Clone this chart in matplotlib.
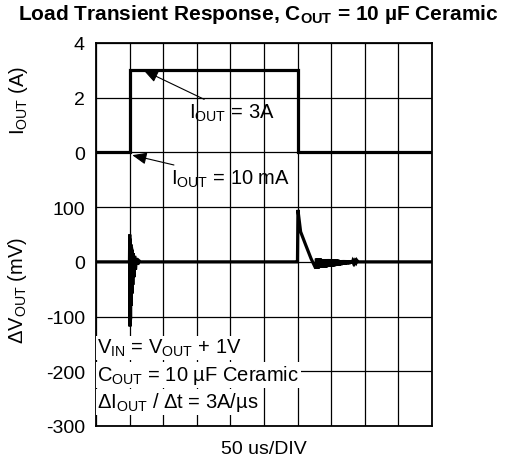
import matplotlib
matplotlib.use("Agg")
import matplotlib.pyplot as plt

plt.rcParams['font.family'] = ['Liberation Sans', 'DejaVu Sans']
plt.rcParams['mathtext.fontset'] = 'custom'
plt.rcParams['mathtext.rm'] = 'Liberation Sans'
plt.rcParams['mathtext.it'] = 'Liberation Sans:italic'
plt.rcParams['mathtext.bf'] = 'Liberation Sans:bold'

# output current (A) vs time (us)
t_iout = [0, 50, 50, 300, 300, 500]
iout = [0, 0, 3, 3, 0, 0]

# output voltage deviation (mV) vs time (us)
t_vout = [0, 49.8, 50.2, 50.6, 51.0, 51.4, 51.9, 52.4, 52.9, 53.5, 54.1, 54.8,
          55.6, 56.5, 57.5, 58.8, 60.2, 62.0, 64.0, 66.0,
          299.4, 299.8, 300.5, 304.5, 312, 320, 327,
          328, 329, 330, 331, 332, 333, 334, 335, 336, 337, 338, 339, 340,
          341, 342, 343, 344, 345, 346, 347, 348, 349, 350, 351, 352, 353,
          354, 355, 356, 357, 358, 359, 360, 361, 362, 363, 364, 365, 366,
          367, 368, 369, 370, 371, 372, 373, 374, 375, 376, 377, 378, 379,
          380, 381, 382, 383, 384, 385, 386, 387, 388, 390, 500]
vout = [0, 0, 50, -118, 42, -105, 32, -80, 26, -58, 22, -42, 16, -28, 11,
        -14, 7, -5, 2, 0,
        0, 0, 95, 55, 31, 6, -12,
        6, -12, 6, -12, 6, -11, 6, -11, 5, -11, 5, -10, 5,
        -10, 5, -10, 5, -9, 5, -9, 5, -9, 4, -8, 4, -8,
        4, -8, 4, -7, 4, -7, 4, -7, 3, -6, 3, -6, 3,
        -5, 3, -5, 3, -5, 2, -4, 2, -4, 2, -4, 2, -3,
        2, -3, 1, -2, 1, -2, 1, -1, 3, 0, 0]

v_ticks = [-300, -200, -100, 0, 100, 200, 300, 400]
v_labels = ['-300', '-200', '-100', '0', '100', '', '', '']
i_ticks = [0, 2, 4]
x_ticks = list(range(0, 501, 50))

fig = plt.figure(figsize=(5.08, 4.64), dpi=100)
rect = [96 / 508, 1 - 427 / 464, 336 / 508, 383 / 464]

ax = fig.add_axes(rect)
ax.set_xlim(0, 500)
ax.set_ylim(-300, 400)
ax.set_xticks(x_ticks)
ax.set_xticklabels([])
ax.set_yticks(v_ticks)
ax.set_yticklabels(v_labels)
ax.tick_params(length=0, labelsize=14, pad=8)
ax.grid(True, color='black', linewidth=0.9)
ax.set_axisbelow(True)
for s in ax.spines.values():
    s.set_linewidth(1.3)
ax.plot(t_vout, vout, color='black', linewidth=2.3, solid_joinstyle='miter')

axi = fig.add_axes(rect, sharex=ax)
axi.patch.set_visible(False)
for s in axi.spines.values():
    s.set_visible(False)
axi.set_ylim(-10, 4)
axi.set_yticks(i_ticks)
axi.tick_params(length=0, labelsize=14, pad=8, labelbottom=False)
axi.plot(t_iout, iout, color='black', linewidth=2.3, solid_joinstyle='miter')

arrow = dict(arrowstyle='-|>,head_length=0.6,head_width=0.25', color='black',
             linewidth=0.8, shrinkA=0, shrinkB=0)
axi.annotate(r'$\mathregular{I_{OUT}}$ = 3A', xy=(71, 3.0), xytext=(139, 1.45),
             fontsize=14.5, ha='left', va='center', arrowprops=arrow)
axi.annotate(r'$\mathregular{I_{OUT}}$ = 10 mA', xy=(54, -0.1), xytext=(112, -0.95),
             fontsize=14.5, ha='left', va='center', arrowprops=arrow)

box = dict(facecolor='white', edgecolor='none', pad=1.0)
notes = [r'$\mathregular{V_{IN}}$ = $\mathregular{V_{OUT}}$ + 1V',
         r'$\mathregular{C_{OUT}}$ = 10 µF Ceramic',
         r'$\mathregular{\Delta I_{OUT}}$ / Δt = 3A/µs']
for k, note in enumerate(notes):
    ax.text(2, -157 - 49.5 * k, note, fontsize=14.5, ha='left', va='center', bbox=box)

fig.text(258 / 508, 1 - 15 / 464, r'Load Transient Response, $\mathbf{C_{OUT}}$ = 10 µF Ceramic',
         fontsize=15, fontweight='bold', ha='center', va='center')
fig.text(18 / 508, 1 - 100 / 464, r'$\mathregular{I_{OUT}}$ (A)', rotation=90,
         fontsize=14.5, ha='center', va='center')
fig.text(18 / 508, 1 - 290 / 464, r'$\mathregular{\Delta V_{OUT}}$ (mV)', rotation=90,
         fontsize=14.5, ha='center', va='center')
fig.text(264 / 508, 1 - 450 / 464, '50 us/DIV', fontsize=14, ha='center', va='center')

fig.savefig('out.png', dpi=100)
